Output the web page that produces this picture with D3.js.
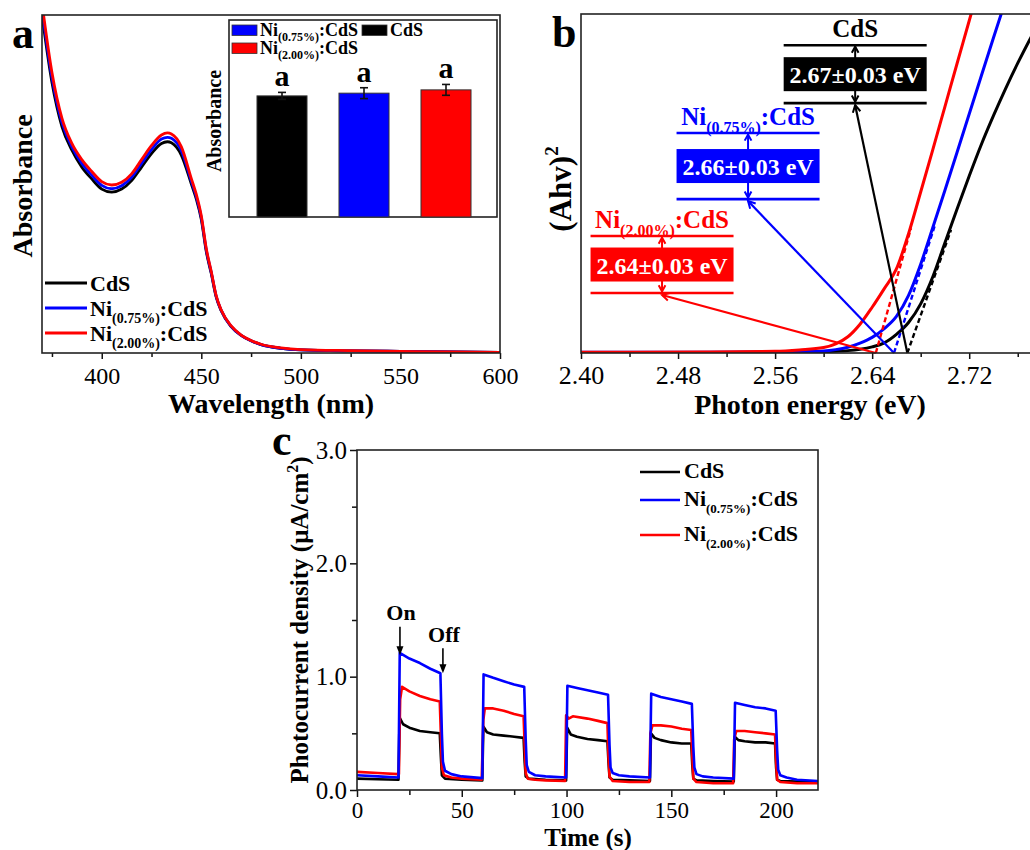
<!DOCTYPE html>
<html><head><meta charset="utf-8">
<script src="https://cdn.jsdelivr.net/npm/d3@7"></script>
<style>body{margin:0;background:#fff} svg{display:block} text{font-family:"Liberation Serif","Times New Roman",serif;}</style>
</head><body><svg id="fig" width="1030" height="850"></svg>
<script>
// ---------------- DATA ----------------
const seriesNames = ["CdS", "Ni(0.75%):CdS", "Ni(2.00%):CdS"];
const seriesColors = ["#000000", "#0000ff", "#ff0000"];

// Panel a: UV-vis absorbance
const wavelength = [370,375,380,385,390,395,400,405,410,415,420,425,430,433,435,440,445,447.5,450,452.5,455,457.5,460,465,470,475,480,490,500,525,550,575,600];
const absCdS   = [1.000,0.800,0.670,0.600,0.550,0.515,0.485,0.476,0.485,0.510,0.550,0.590,0.620,0.625,0.622,0.585,0.500,0.455,0.395,0.300,0.235,0.165,0.125,0.078,0.052,0.036,0.025,0.014,0.009,0.006,0.005,0.003,0.002];
const absNi075 = [1.018,0.815,0.682,0.610,0.561,0.526,0.496,0.486,0.495,0.520,0.561,0.602,0.633,0.638,0.635,0.598,0.508,0.462,0.401,0.305,0.238,0.167,0.126,0.079,0.052,0.036,0.025,0.014,0.009,0.006,0.005,0.003,0.002];
const absNi200 = [1.035,0.830,0.695,0.620,0.572,0.537,0.507,0.497,0.505,0.530,0.572,0.614,0.645,0.651,0.648,0.610,0.516,0.469,0.406,0.309,0.241,0.169,0.127,0.080,0.053,0.037,0.026,0.015,0.010,0.007,0.005,0.003,0.002];

// Panel a inset: absorbance bars
const insetValues = [0.624, 0.638, 0.655];
const insetErrors = [0.018, 0.028, 0.028];
const insetLetters = ["a", "a", "a"];

// Panel b: Tauc plot
const energy = [2.40,2.50,2.56,2.58,2.60,2.61,2.62,2.63,2.64,2.65,2.66,2.67,2.68,2.69,2.70,2.71,2.72,2.73,2.74,2.75,2.76,2.77,2.78];
const taucCdS   = [0.001,0.001,0.002,0.003,0.004,0.005,0.007,0.011,0.018,0.030,0.055,0.090,0.145,0.225,0.325,0.425,0.522,0.615,0.700,0.780,0.855,0.925,0.990];
const taucNi075 = [0.002,0.002,0.003,0.004,0.006,0.010,0.017,0.029,0.046,0.072,0.108,0.170,0.262,0.370,0.480,0.592,0.705,0.818,0.930,1.040,1.150,1.260,1.370];
const taucNi200 = [0.002,0.003,0.005,0.009,0.016,0.027,0.048,0.085,0.135,0.190,0.248,0.352,0.475,0.600,0.727,0.854,0.980,1.107,1.230,1.350,1.470,1.590,1.710];
const tangentStart = [2.669, 2.658, 2.643];
const tangentEndE  = [2.705, 2.692, 2.672];
const tangentEndV  = [0.363, 0.380, 0.368];
const bandGaps   = [2.67, 2.66, 2.64];
const bandGapErr = [0.03, 0.03, 0.03];

// Panel c: transient photocurrent [time (s), density (uA/cm2)]
const photoCdS = [[0,0.10],[10,0.095],[19.8,0.09],[20.3,0.64],[22,0.58],[25,0.55],[30,0.52],[35,0.51],[39.5,0.50],[40,0.30],[40.5,0.13],[42,0.10],[50,0.09],[59.8,0.085],[60.3,0.56],[62,0.51],[65,0.49],[70,0.48],[75,0.47],[79.5,0.46],[80,0.25],[80.5,0.12],[82,0.10],[90,0.09],[99.8,0.085],[100.3,0.55],[102,0.49],[105,0.47],[110,0.45],[115,0.44],[119.5,0.43],[120,0.25],[120.5,0.11],[122,0.09],[130,0.085],[139.8,0.08],[140.3,0.50],[142,0.46],[145,0.44],[150,0.42],[155,0.41],[159.5,0.41],[160,0.22],[160.5,0.10],[162,0.085],[170,0.08],[179.8,0.075],[180.3,0.47],[182,0.44],[185,0.43],[190,0.42],[195,0.42],[199.5,0.41],[200,0.20],[200.5,0.09],[202,0.08],[210,0.075],[220,0.07]];
const photoNi075 = [[0,0.13],[10,0.12],[19.8,0.11],[20.4,1.21],[25,1.16],[30,1.12],[35,1.07],[39.8,1.03],[40.5,0.50],[41,0.25],[42,0.17],[45,0.14],[50,0.12],[59.8,0.105],[60.4,1.02],[65,0.99],[70,0.96],[75,0.93],[79.8,0.91],[80.5,0.45],[81,0.22],[82,0.16],[85,0.13],[90,0.12],[99.8,0.11],[100.4,0.92],[105,0.90],[110,0.88],[115,0.86],[119.8,0.84],[120.5,0.40],[121,0.20],[122,0.15],[125,0.13],[130,0.12],[139.8,0.11],[140.4,0.85],[145,0.82],[150,0.80],[155,0.78],[159.8,0.76],[160.5,0.38],[161,0.20],[162,0.14],[165,0.12],[170,0.11],[179.8,0.10],[180.4,0.77],[185,0.75],[190,0.73],[195,0.72],[199.8,0.70],[200.5,0.35],[201,0.18],[202,0.13],[205,0.11],[210,0.09],[220,0.08]];
const photoNi200 = [[0,0.16],[10,0.15],[19.5,0.14],[20,0.14],[20.6,0.80],[21.5,0.91],[25,0.87],[30,0.83],[35,0.80],[39.5,0.78],[40,0.50],[40.5,0.20],[41.5,0.13],[45,0.11],[50,0.10],[59.5,0.09],[60.3,0.62],[61,0.72],[65,0.72],[70,0.70],[75,0.67],[79.5,0.65],[80,0.40],[80.5,0.15],[81.5,0.10],[85,0.09],[90,0.085],[99.3,0.08],[99.8,0.66],[101,0.63],[103,0.65],[110,0.63],[115,0.61],[119.5,0.59],[120,0.30],[120.5,0.12],[122,0.08],[130,0.07],[139.5,0.07],[140,0.50],[141,0.57],[145,0.57],[150,0.56],[155,0.54],[159.5,0.53],[160,0.30],[160.5,0.10],[162,0.07],[170,0.06],[179.5,0.06],[180,0.45],[181,0.52],[185,0.52],[190,0.51],[195,0.50],[199.5,0.49],[200,0.25],[200.5,0.09],[202,0.07],[210,0.06],[220,0.06]];

const ticksA = [400,450,500,550,600], minorA = [375,425,475,525,575];
const ticksB = [2.40,2.48,2.56,2.64,2.72], minorB = [2.44,2.52,2.60,2.68,2.76];
const ticksCx = [0,50,100,150,200], minorCx = [25,75,125,175];
const ticksCy = [0,1,2,3], minorCy = [0.5,1.5,2.5];

// ---------------- HELPERS ----------------
const FONT = '"Liberation Serif","Times New Roman",serif';
const svg = d3.select("#fig");
const defs = svg.append("defs");

function richName(sel, name, fs, subfs) {
  const m = name.match(/^(.*?)\((.*)\)(.*)$/);
  if (!m) { sel.text(name); return sel; }
  sel.append("tspan").text(m[1]);
  sel.append("tspan").attr("font-size", subfs).attr("dy", fs * 0.33).text("(" + m[2] + ")");
  sel.append("tspan").attr("dy", -fs * 0.33).text(m[3]);
  return sel;
}
function styleAxis(g, fs) {
  g.select(".domain").remove();
  g.selectAll(".tick line").attr("stroke", "#111").attr("stroke-width", 1.5);
  g.selectAll(".tick text").attr("fill", "#000").attr("font-size", fs).attr("font-family", FONT);
}
function clip(id, box) {
  defs.append("clipPath").attr("id", id).append("rect")
    .attr("x", box.x0).attr("y", box.y0).attr("width", box.x1 - box.x0).attr("height", box.y1 - box.y0);
}
function frame(box) {
  svg.append("rect").attr("x", box.x0).attr("y", box.y0).attr("width", box.x1 - box.x0).attr("height", box.y1 - box.y0)
    .attr("fill", "none").attr("stroke", "#222").attr("stroke-width", 1.6);
}
function chevron(g, x, y, dir, color, s) {
  const a1 = dir + Math.PI - 0.5, a2 = dir + Math.PI + 0.5;
  g.append("path").attr("d", `M${x + s * Math.cos(a1)},${y + s * Math.sin(a1)}L${x},${y}L${x + s * Math.cos(a2)},${y + s * Math.sin(a2)}`)
    .attr("fill", "none").attr("stroke", color).attr("stroke-width", 2);
}
function panelLetter(t, x, y) {
  svg.append("text").attr("x", x).attr("y", y).attr("font-size", 44).attr("font-weight", "bold").text(t);
}

// ---------------- PANEL A ----------------
const A = { x0: 42, x1: 500, y0: 15, y1: 353 };
const xA = d3.scaleLinear().domain([370, 600]).range([A.x0, A.x1]);
const yA = d3.scaleLinear().domain([0, 1]).range([A.y1, A.y0]);
clip("clipA", A);
const absSeries = [absCdS, absNi075, absNi200];
const lineA = d3.line().x((d, i) => xA(wavelength[i])).y(d => yA(d)).curve(d3.curveMonotoneX);
const gA = svg.append("g").attr("clip-path", "url(#clipA)");
absSeries.forEach((s, i) => {
  gA.append("path").attr("d", lineA(s)).attr("fill", "none").attr("stroke", seriesColors[i]).attr("stroke-width", 2.8);
});
svg.append("g").attr("transform", `translate(0,${A.y1})`)
  .call(d3.axisBottom(xA).tickValues(ticksA).tickSize(6).tickPadding(8).tickFormat(d3.format("d")))
  .call(g => styleAxis(g, 24));
svg.append("g").attr("transform", `translate(0,${A.y1})`)
  .call(d3.axisBottom(xA).tickValues(minorA).tickSize(4).tickFormat(""))
  .call(g => styleAxis(g, 24));
frame(A);
svg.append("text").attr("transform", `translate(32,186) rotate(-90)`).attr("text-anchor", "middle")
  .attr("font-size", 28).attr("font-weight", "bold").text("Absorbance");
svg.append("text").attr("x", 271).attr("y", 413).attr("text-anchor", "middle")
  .attr("font-size", 28).attr("font-weight", "bold").text("Wavelength (nm)");
seriesNames.forEach((n, i) => {
  const y = 283 + i * 25;
  svg.append("line").attr("x1", 45).attr("x2", 87).attr("y1", y).attr("y2", y).attr("stroke", seriesColors[i]).attr("stroke-width", 3);
  richName(svg.append("text").attr("x", 90).attr("y", y + 8).attr("font-size", 22).attr("font-weight", "bold"), n, 22, 14);
});
panelLetter("a", 12, 48);

// Inset
const I = { x0: 229, x1: 497, y0: 20, y1: 217 };
svg.append("rect").attr("x", I.x0).attr("y", I.y0).attr("width", I.x1 - I.x0).attr("height", I.y1 - I.y0)
  .attr("fill", "#fff").attr("stroke", "#222").attr("stroke-width", 1.6);
const xI = d3.scaleBand().domain(seriesNames).range([241, 487]).paddingInner(0.39).paddingOuter(0.195);
const yI = d3.scaleLinear().domain([0, 1.015]).range([I.y1, I.y0]);
seriesNames.forEach((n, i) => {
  const x = xI(n), w = xI.bandwidth(), cx = x + w / 2;
  svg.append("rect").attr("x", x).attr("y", yI(insetValues[i])).attr("width", w).attr("height", I.y1 - yI(insetValues[i]))
    .attr("fill", seriesColors[i]).attr("stroke", "#333").attr("stroke-width", 1);
  const yt = yI(insetValues[i] + insetErrors[i]), yb = yI(insetValues[i] - insetErrors[i]);
  const eg = svg.append("g").attr("stroke", "#111").attr("stroke-width", 1.6);
  eg.append("line").attr("x1", cx).attr("x2", cx).attr("y1", yt).attr("y2", yb);
  eg.append("line").attr("x1", cx - 4).attr("x2", cx + 4).attr("y1", yt).attr("y2", yt);
  eg.append("line").attr("x1", cx - 4).attr("x2", cx + 4).attr("y1", yb).attr("y2", yb);
  svg.append("text").attr("x", cx).attr("y", yt - 6).attr("text-anchor", "middle")
    .attr("font-size", 30).attr("font-weight", "bold").text(insetLetters[i]);
});
svg.append("text").attr("transform", `translate(221,121) rotate(-90)`).attr("text-anchor", "middle")
  .attr("font-size", 20).attr("font-weight", "bold").text("Absorbance");
const insetLegendPos = [[1, 232, 25], [0, 362, 25], [2, 232, 43]];
insetLegendPos.forEach(([i, x, y]) => {
  svg.append("rect").attr("x", x).attr("y", y).attr("width", 25).attr("height", 10.5)
    .attr("fill", seriesColors[i]).attr("stroke", "#333").attr("stroke-width", 0.8);
  richName(svg.append("text").attr("x", x + 28).attr("y", y + 10.5).attr("font-size", 18).attr("font-weight", "bold"), seriesNames[i], 18, 12);
});

// ---------------- PANEL B ----------------
const B = { x0: 581, x1: 1042, y0: 14, y1: 353 };
const xB = d3.scaleLinear().domain([2.40, 2.78]).range([B.x0, B.x1]);
const yB = d3.scaleLinear().domain([0, 1]).range([B.y1, B.y0]);
clip("clipB", B);
const gB = svg.append("g").attr("clip-path", "url(#clipB)");
const taucSeries = [taucCdS, taucNi075, taucNi200];
const lineB = d3.line().x((d, i) => xB(energy[i])).y(d => yB(d)).curve(d3.curveMonotoneX);

const annLayout = [
  { cx: 2.626, top: 0.908, bot: 0.737 },
  { cx: 2.5377, top: 0.649, bot: 0.454 },
  { cx: 2.4668, top: 0.345, bot: 0.177 }
];
const annW = 143, annH = 34;
const gAnn = svg.append("g");
annLayout.forEach((L, i) => {
  const c = seriesColors[i];
  const cx = xB(L.cx), yt = yB(L.top), yb = yB(L.bot), ym = (yt + yb) / 2;
  const px = xB(tangentStart[i]), py = yB(0);
  gAnn.append("line").attr("x1", px).attr("y1", py).attr("x2", cx).attr("y2", yb + 2)
    .attr("stroke", c).attr("stroke-width", 2.2);
  chevron(gAnn, cx, yb + 2, Math.atan2(yb + 2 - py, cx - px), c, 8);
  [yt, yb].forEach(yy => gAnn.append("line").attr("x1", cx - annW / 2).attr("x2", cx + annW / 2)
    .attr("y1", yy).attr("y2", yy).attr("stroke", c).attr("stroke-width", 2.6));
  gAnn.append("line").attr("x1", cx).attr("x2", cx).attr("y1", yt + 1).attr("y2", yb - 1).attr("stroke", c).attr("stroke-width", 2);
  chevron(gAnn, cx, yt + 1.5, -Math.PI / 2, c, 7);
  chevron(gAnn, cx, yb - 1.5, Math.PI / 2, c, 7);
  gAnn.append("rect").attr("x", cx - annW / 2).attr("y", ym - annH / 2).attr("width", annW).attr("height", annH).attr("fill", c);
  gAnn.append("text").attr("x", cx).attr("y", ym + 9).attr("text-anchor", "middle").attr("fill", "#fff")
    .attr("font-size", 24).attr("font-weight", "bold")
    .text(`${bandGaps[i].toFixed(2)}±${bandGapErr[i].toFixed(2)} eV`);
  richName(gAnn.append("text").attr("x", cx).attr("y", yt - 8).attr("text-anchor", "middle").attr("fill", c)
    .attr("font-size", 25).attr("font-weight", "bold"), seriesNames[i], 25, 16);
});

taucSeries.forEach((s, i) => {
  gB.append("path").attr("d", lineB(s)).attr("fill", "none").attr("stroke", seriesColors[i]).attr("stroke-width", 3);
  gB.append("line").attr("x1", xB(tangentStart[i])).attr("y1", yB(0)).attr("x2", xB(tangentEndE[i])).attr("y2", yB(tangentEndV[i]))
    .attr("stroke", seriesColors[i]).attr("stroke-width", 2.4).attr("stroke-dasharray", "5,3");
});
svg.append("g").attr("transform", `translate(0,${B.y1})`)
  .call(d3.axisBottom(xB).tickValues(ticksB).tickSize(6).tickPadding(7).tickFormat(d3.format(".2f")))
  .call(g => styleAxis(g, 26));
svg.append("g").attr("transform", `translate(0,${B.y1})`)
  .call(d3.axisBottom(xB).tickValues(minorB).tickSize(4).tickFormat(""))
  .call(g => styleAxis(g, 26));
frame(B);
const yLabB = svg.append("text").attr("transform", `translate(571,189) rotate(-90)`).attr("text-anchor", "middle")
  .attr("font-size", 31).attr("font-weight", "bold");
yLabB.append("tspan").text("(Ahv)");
yLabB.append("tspan").attr("font-size", 19).attr("dy", -13).text("2");
svg.append("text").attr("x", 810).attr("y", 414).attr("text-anchor", "middle")
  .attr("font-size", 28).attr("font-weight", "bold").text("Photon energy (eV)");
panelLetter("b", 552, 47);

// ---------------- PANEL C ----------------
const C = { x0: 357, x1: 818, y0: 450, y1: 790 };
const xC = d3.scaleLinear().domain([0, 220]).range([C.x0, C.x1]);
const yC = d3.scaleLinear().domain([0, 3]).range([C.y1, C.y0]);
clip("clipC", C);
const gC = svg.append("g").attr("clip-path", "url(#clipC)");
const photoSeries = [photoCdS, photoNi075, photoNi200];
const lineC = d3.line().x(d => xC(d[0])).y(d => yC(d[1]));
[0, 2, 1].forEach(i => {
  gC.append("path").attr("d", lineC(photoSeries[i])).attr("fill", "none").attr("stroke", seriesColors[i])
    .attr("stroke-width", 2.6).attr("stroke-linejoin", "round");
});
svg.append("g").attr("transform", `translate(0,${C.y1})`)
  .call(d3.axisBottom(xC).tickValues(ticksCx).tickSize(7).tickPadding(5).tickFormat(d3.format("d")))
  .call(g => styleAxis(g, 23));
svg.append("g").attr("transform", `translate(0,${C.y1})`)
  .call(d3.axisBottom(xC).tickValues(minorCx).tickSize(5).tickFormat(""))
  .call(g => styleAxis(g, 23));
svg.append("g").attr("transform", `translate(${C.x0},0)`)
  .call(d3.axisLeft(yC).tickValues(ticksCy).tickSize(7).tickPadding(3).tickFormat(d3.format(".1f")))
  .call(g => styleAxis(g, 25));
svg.append("g").attr("transform", `translate(${C.x0},0)`)
  .call(d3.axisLeft(yC).tickValues(minorCy).tickSize(5).tickFormat(""))
  .call(g => styleAxis(g, 25));
frame(C);
const yLabC = svg.append("text").attr("transform", `translate(308,620) rotate(-90)`).attr("text-anchor", "middle")
  .attr("font-size", 25).attr("font-weight", "bold");
yLabC.append("tspan").text("Photocurrent density (μA/cm");
yLabC.append("tspan").attr("font-size", 16).attr("dy", -10).text("2");
yLabC.append("tspan").attr("dy", 10).text(")");
svg.append("text").attr("x", 588).attr("y", 846).attr("text-anchor", "middle")
  .attr("font-size", 25).attr("font-weight", "bold").text("Time (s)");
seriesNames.forEach((n, i) => {
  const y = [472, 500, 535][i];
  svg.append("line").attr("x1", 640).attr("x2", 680).attr("y1", y).attr("y2", y).attr("stroke", seriesColors[i]).attr("stroke-width", 2.6);
  richName(svg.append("text").attr("x", 684).attr("y", y + 6).attr("font-size", 22).attr("font-weight", "bold"), n, 22, 13);
});
const marks = [{ t: 20.5, label: "On", lv: 1.50, from: 1.44, to: 1.19 }, { t: 41, label: "Off", lv: 1.31, from: 1.25, to: 1.03 }];
marks.forEach(m => {
  const x = xC(m.t);
  svg.append("text").attr("x", x + 1).attr("y", yC(m.lv)).attr("text-anchor", "middle")
    .attr("font-size", 22).attr("font-weight", "bold").text(m.label);
  svg.append("line").attr("x1", x).attr("x2", x).attr("y1", yC(m.from)).attr("y2", yC(m.to) - 3)
    .attr("stroke", "#000").attr("stroke-width", 1.6);
  svg.append("path").attr("d", `M${x - 3.5},${yC(m.to) - 9}L${x + 3.5},${yC(m.to) - 9}L${x},${yC(m.to)}Z`).attr("fill", "#000");
});
panelLetter("c", 272, 455);
</script></body></html>
